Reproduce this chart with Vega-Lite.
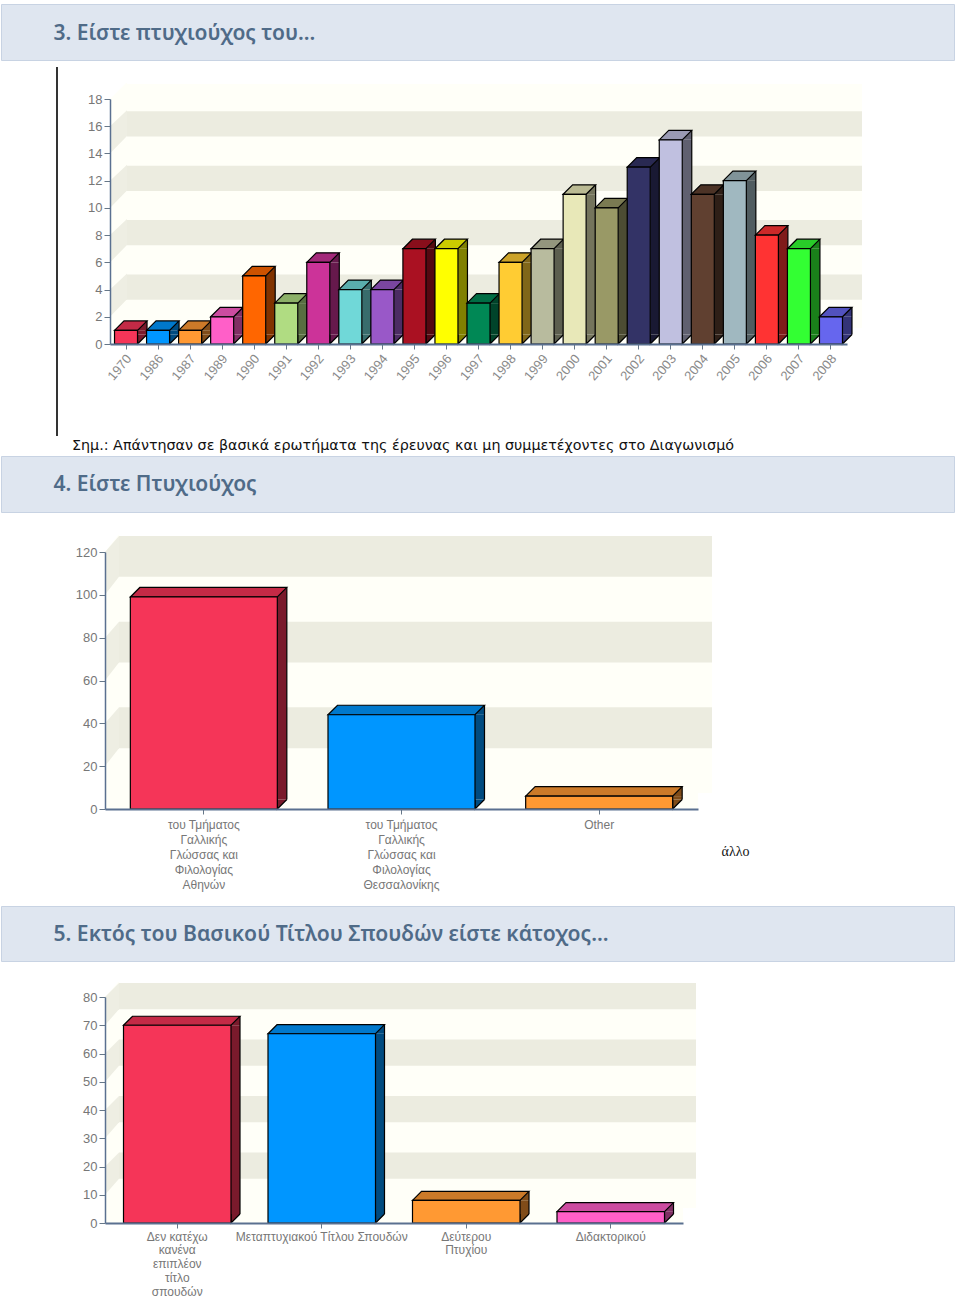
{
"$schema":"https://vega.github.io/schema/vega-lite/v6.json",
"padding":{"left":0,"top":3,"right":0,"bottom":0},
"background":"white",
"config":{"view":{"stroke":null},
 "axisY":{"grid":false,"labelFont":"Liberation Sans","labelFontSize":13,"labelColor":"#777777","labelPadding":2,"tickColor":"#667788","tickSize":6,"domainColor":"#5a7090","domainWidth":1.5},
 "axisX":{"labelFont":"Liberation Sans","tickColor":"#667788","tickSize":5,"domainColor":"#5a7090","domainWidth":2,"labelLimit":300},
 "range":{
 "category":["#f53558","#0096ff","#ff9933","#ff5fc8","#ff6600","#b0dc82","#cc3399","#70d8d8","#9958c8","#aa1122","#ffff00","#008855","#ffcc33","#b8bb9e","#e8e8b8","#999966","#333366","#c0c0e0","#604030","#a0b8c0","#ff3333","#33ff33","#6666ee"],
 "ordinal":["#c42a46","#0078cc","#cc7a29","#cc4ca0","#cc5200","#8cb068","#a3297a","#5aadad","#7a46a0","#880e1b","#cccc00","#006d44","#cca329","#93967e","#baba93","#7a7a52","#292952","#9a9ab3","#4c3326","#809399","#cc2929","#29cc29","#5252be"],
 "heatmap":["#7a1a2c","#004b80","#804c19","#802f64","#803300","#586e41","#66194c","#386c6c","#4c2c64","#550811","#808000","#00442a","#806619","#5c5e4f","#74745c","#4c4c33","#191933","#606070","#2e1f17","#505c60","#801a1a","#1a801a","#333377"]}},
"datasets":{
 "years":[{"c":"1970","v":1},{"c":"1986","v":1},{"c":"1987","v":1},{"c":"1989","v":2},{"c":"1990","v":5},{"c":"1991","v":3},{"c":"1992","v":6},{"c":"1993","v":4},{"c":"1994","v":4},{"c":"1995","v":7},{"c":"1996","v":7},{"c":"1997","v":3},{"c":"1998","v":6},{"c":"1999","v":7},{"c":"2000","v":11},{"c":"2001","v":10},{"c":"2002","v":13},{"c":"2003","v":15},{"c":"2004","v":11},{"c":"2005","v":12},{"c":"2006","v":8},{"c":"2007","v":7},{"c":"2008","v":2}],
 "degree":[{"c":"του Τμήματος|Γαλλικής|Γλώσσας και|Φιλολογίας|Αθηνών","v":99},{"c":"του Τμήματος|Γαλλικής|Γλώσσας και|Φιλολογίας|Θεσσαλονίκης","v":44},{"c":"Other","v":6}],
 "extra":[{"c":"Δεν κατέχω|κανένα|επιπλέον|τίτλο|σπουδών","v":70},{"c":"Μεταπτυχιακού Τίτλου Σπουδών","v":67},{"c":"Δεύτερου|Πτυχίου","v":8},{"c":"Διδακτορικού","v":4}],
 "w1":[{"from":18,"to":0}],
 "w2":[{"from":120,"to":0}],
 "w3":[{"from":80,"to":0}],
 "s1":[{"from":16,"to":14},{"from":12,"to":10},{"from":8,"to":6},{"from":4,"to":2}],
 "s2":[{"from":120,"to":100},{"from":80,"to":60},{"from":40,"to":20}],
 "s3":[{"from":80,"to":70},{"from":60,"to":50},{"from":40,"to":30},{"from":20,"to":10}]
},
"bounds":"flush","spacing":0,
"vconcat":[
 {"width":953,"height":56,"view":{"fill":"#dfe6f0","stroke":"#c8d3e3"},"data":{"values":[{"t":"3. Είστε πτυχιούχος του..."}]},
  "mark":{"type":"text","align":"left","dx":-424,"dy":1.5,"font":"Noto Sans","fontWeight":600,"fontSize":21,"color":"#4f6b88"},"encoding":{"text":{"field":"t"}}},
 {"width":1,"height":39,"data":{"values":[{"t":""}]},"mark":{"type":"text"},"encoding":{}},
 {"bounds":"flush","spacing":0,"hconcat":[
  {"width":109,"height":245,"data":{"values":[{"t":"line"}]},"mark":{"type":"rule","color":"#000","strokeWidth":1.6},
   "encoding":{"x":{"datum":57,"type":"quantitative","scale":{"domain":[1,110],"nice":false,"zero":false},"axis":null},
   "y":{"datum":67,"type":"quantitative","scale":{"domain":[344,99],"nice":false,"zero":false},"axis":null},"y2":{"datum":436}}},
  {"width":737,"height":245,"view":{"fill":"#fffff8"},"layer":[
   {"data":{"name":"w1"},"mark":{"type":"rect","color":"#fffff8","xOffset":15,"yOffset":-15,"y2Offset":-16},
    "encoding":{"y":{"field":"from","type":"quantitative","title":null,"scale":{"domain":[0,18],"nice":false,"zero":false},"axis":{"values":[0,2,4,6,8,10,12,14,16,18],"zindex":1}},"y2":{"field":"to"}}},
   {"data":{"name":"s1"},"mark":{"type":"rect","color":"#ecece0","xOffset":15,"yOffset":-15,"y2Offset":-17},
    "encoding":{"y":{"field":"from","type":"quantitative","title":null,"scale":{"domain":[0,18],"nice":false,"zero":false},"axis":{"values":[0,2,4,6,8,10,12,14,16,18],"zindex":1}},"y2":{"field":"to"}}},
   {"data":{"name":"w1"},"mark":{"type":"point","filled":true,"opacity":1,"color":"#fffff8","size":400,"shape":"M-36.85,-1.6 L-35.15,-1.6 L-35.15,24.5 L-36.85,24.5 Z"},
    "encoding":{"y":{"field":"from","type":"quantitative","title":null,"scale":{"domain":[0,18],"nice":false,"zero":false},"axis":{"values":[0,2,4,6,8,10,12,14,16,18],"zindex":1}}}},
   {"data":{"name":"w1"},"mark":{"type":"point","filled":true,"opacity":1,"color":"#ffffff","size":400,"shape":"M-36.85,-1.7 L-35.15,-1.7 L-36.85,0 Z"},
    "encoding":{"y":{"field":"from","type":"quantitative","title":null,"scale":{"domain":[0,18],"nice":false,"zero":false},"axis":{"values":[0,2,4,6,8,10,12,14,16,18],"zindex":1}}}},
   {"data":{"name":"s1"},"mark":{"type":"point","filled":true,"opacity":1,"color":"#eeeee3","size":400,"shape":"M-36.85,0 L-35.15,-1.6 L-35.15,0.98 L-36.85,2.73 Z"},
    "encoding":{"y":{"field":"from","type":"quantitative","title":null,"scale":{"domain":[0,18],"nice":false,"zero":false},"axis":{"values":[0,2,4,6,8,10,12,14,16,18],"zindex":1}}}},
   {"data":{"name":"years"},
    "encoding":{"x":{"field":"c","type":"nominal","sort":null,"title":null,"scale":{"paddingInner":0,"paddingOuter":0},
      "axis":{"zindex":1,"labelAngle":-50,"labelAlign":"right","labelBaseline":"middle","labelFontSize":13,"labelColor":"#8a8a8a","labelPadding":7,"labelOffset":3}},
     "y":{"field":"v","type":"quantitative","stack":false,"title":null,"scale":{"domain":[0,18],"nice":false,"zero":false},
      "axis":{"values":[0,2,4,6,8,10,12,14,16,18],"zindex":1}}},
    "resolve":{"scale":{"color":"independent"}},
    "layer":[
     {"mark":{"type":"rule","strokeWidth":9.5,"xOffset":16.25,"y2Offset":-9.5},
      "encoding":{"y2":{"datum":0},"color":{"field":"c","type":"nominal","sort":null,"legend":null,"scale":{"range":"heatmap"}}}},
     {"mark":{"type":"point","filled":true,"opacity":1,"size":400,"shape":"M1.15,0 L2.1,-0.95 L2.1,0 Z"},
      "encoding":{"color":{"field":"c","type":"nominal","sort":null,"legend":null,"scale":{"range":"heatmap"}}}},
     {"mark":{"type":"point","filled":true,"opacity":1,"size":400,"stroke":"#000","strokeWidth":1.2,"shape":"M1.15,-0.95 L1.15,0 L2.1,-0.95"},
      "encoding":{"y":{"datum":0,"type":"quantitative","title":null,"scale":{"domain":[0,18],"nice":false,"zero":false},"axis":{"values":[0,2,4,6,8,10,12,14,16,18],"zindex":1}},"color":{"field":"c","type":"nominal","sort":null,"legend":null,"scale":{"range":"heatmap"}}}},
     {"mark":{"type":"rule","color":"#000","strokeWidth":1.2,"xOffset":21,"yOffset":-9.5,"y2Offset":-9.5},"encoding":{"y2":{"datum":0}}},
     {"mark":{"type":"point","filled":true,"opacity":1,"size":400,"stroke":"#000","strokeWidth":1.2,"shape":"M-1.15,0 L-0.2,-0.95 L2.1,-0.95 L1.15,0 Z"},
      "encoding":{"color":{"field":"c","type":"nominal","sort":null,"legend":null,"scale":{"range":"ordinal"}}}},
     {"mark":{"type":"bar","width":23,"stroke":"#000","strokeWidth":1.2},
      "encoding":{"color":{"field":"c","type":"nominal","sort":null,"legend":null,"scale":{"range":"category"}}}}
    ]}
  ]}
 ]},
 {"width":953,"height":357,"data":{"values":[{"t":"Σημ.: Απάντησαν σε βασικά ερωτήματα της έρευνας και μη συμμετέχοντες στο Διαγωνισμό"}]},
  "mark":{"type":"text","align":"left","dx":-405.5,"dy":168.5,"font":"DejaVu Sans","fontSize":14.3,"color":"#111111"},"encoding":{"text":{"field":"t"}}},
 {"width":953,"height":56,"view":{"fill":"#dfe6f0","stroke":"#c8d3e3"},"data":{"values":[{"t":"4. Είστε Πτυχιούχος"}]},
  "mark":{"type":"text","align":"left","dx":-424,"dy":1,"font":"Noto Sans","fontWeight":600,"fontSize":21,"color":"#4f6b88"},"encoding":{"text":{"field":"t"}}},
 {"width":1,"height":40,"data":{"values":[{"t":""}]},"mark":{"type":"text"},"encoding":{}},
 {"bounds":"flush","spacing":0,"hconcat":[
  {"width":104,"height":257,"data":{"values":[{"t":""}]},"mark":{"type":"text"},"encoding":{}},
  {"width":593,"height":257,"view":{"fill":"#fffff8"},"layer":[
   {"data":{"name":"w2"},"mark":{"type":"rect","color":"#fffff8","xOffset":14,"yOffset":-16,"y2Offset":-16},
    "encoding":{"y":{"field":"from","type":"quantitative","title":null,"scale":{"domain":[0,120],"nice":false,"zero":false},"axis":{"values":[0,20,40,60,80,100,120],"zindex":1}},"y2":{"field":"to"}}},
   {"data":{"name":"s2"},"mark":{"type":"rect","color":"#ecece0","xOffset":14,"yOffset":-16,"y2Offset":-18},
    "encoding":{"y":{"field":"from","type":"quantitative","title":null,"scale":{"domain":[0,120],"nice":false,"zero":false},"axis":{"values":[0,20,40,60,80,100,120],"zindex":1}},"y2":{"field":"to"}}},
   {"data":{"name":"w2"},"mark":{"type":"point","filled":true,"opacity":1,"color":"#fffff8","size":400,"shape":"M-29.65,-1.7 L-28.25,-1.7 L-28.25,25.7 L-29.65,25.7 Z"},
    "encoding":{"y":{"field":"from","type":"quantitative","title":null,"scale":{"domain":[0,120],"nice":false,"zero":false},"axis":{"values":[0,20,40,60,80,100,120],"zindex":1}}}},
   {"data":{"name":"w2"},"mark":{"type":"point","filled":true,"opacity":1,"color":"#ffffff","size":400,"shape":"M-29.65,-1.8 L-28.25,-1.8 L-29.65,0 Z"},
    "encoding":{"y":{"field":"from","type":"quantitative","title":null,"scale":{"domain":[0,120],"nice":false,"zero":false},"axis":{"values":[0,20,40,60,80,100,120],"zindex":1}}}},
   {"data":{"name":"s2"},"mark":{"type":"point","filled":true,"opacity":1,"color":"#eeeee3","size":400,"shape":"M-29.65,0 L-28.25,-1.6 L-28.25,2.48 L-29.65,4.28 Z"},
    "encoding":{"y":{"field":"from","type":"quantitative","title":null,"scale":{"domain":[0,120],"nice":false,"zero":false},"axis":{"values":[0,20,40,60,80,100,120],"zindex":1}}}},
   {"data":{"values":[{"t":"άλλο"}]},"mark":{"type":"text","font":"Liberation Serif","fontSize":14,"color":"#111111","dx":334,"dy":171},"encoding":{"text":{"field":"t"}}},
   {"data":{"name":"degree"},
    "encoding":{"x":{"field":"c","type":"nominal","sort":null,"title":null,"scale":{"paddingInner":0,"paddingOuter":0},
      "axis":{"zindex":1,"labelAngle":0,"labelAlign":"center","labelBaseline":"top","labelExpr":"split(datum.label,'|')","labelLineHeight":15,"labelFontSize":12,"labelColor":"#777777","labelPadding":5}},
     "y":{"field":"v","type":"quantitative","stack":false,"title":null,"scale":{"domain":[0,120],"nice":false,"zero":false},
      "axis":{"values":[0,20,40,60,80,100,120],"zindex":1}}},
    "resolve":{"scale":{"color":"independent"}},
    "layer":[
     {"mark":{"type":"rule","strokeWidth":9.5,"xOffset":78.25,"y2Offset":-9.5},
      "encoding":{"y2":{"datum":0},"color":{"field":"c","type":"nominal","sort":null,"legend":null,"scale":{"range":"heatmap"}}}},
     {"mark":{"type":"point","filled":true,"opacity":1,"size":400,"shape":"M7.35,0 L8.3,-0.95 L8.3,0 Z"},
      "encoding":{"color":{"field":"c","type":"nominal","sort":null,"legend":null,"scale":{"range":"heatmap"}}}},
     {"mark":{"type":"point","filled":true,"opacity":1,"size":400,"stroke":"#000","strokeWidth":1.2,"shape":"M7.35,-0.95 L7.35,0 L8.3,-0.95"},
      "encoding":{"y":{"datum":0,"type":"quantitative","title":null,"scale":{"domain":[0,120],"nice":false,"zero":false},"axis":{"values":[0,20,40,60,80,100,120],"zindex":1}},"color":{"field":"c","type":"nominal","sort":null,"legend":null,"scale":{"range":"heatmap"}}}},
     {"mark":{"type":"rule","color":"#000","strokeWidth":1.2,"xOffset":83,"yOffset":-9.5,"y2Offset":-9.5},"encoding":{"y2":{"datum":0}}},
     {"mark":{"type":"point","filled":true,"opacity":1,"size":400,"stroke":"#000","strokeWidth":1.2,"shape":"M-7.35,0 L-6.4,-0.95 L8.3,-0.95 L7.35,0 Z"},
      "encoding":{"color":{"field":"c","type":"nominal","sort":null,"legend":null,"scale":{"range":"ordinal"}}}},
     {"mark":{"type":"bar","width":147,"stroke":"#000","strokeWidth":1.2},
      "encoding":{"color":{"field":"c","type":"nominal","sort":null,"legend":null,"scale":{"range":"category"}}}}
    ]}
  ]}
 ]},
 {"width":1,"height":354,"data":{"values":[{"t":""}]},"mark":{"type":"text"},"encoding":{}},
 {"width":953,"height":55,"view":{"fill":"#dfe6f0","stroke":"#c8d3e3"},"data":{"values":[{"t":"5. Εκτός του Βασικού Τίτλου Σπουδών είστε κάτοχος..."}]},
  "mark":{"type":"text","align":"left","dx":-424,"dy":1,"font":"Noto Sans","fontWeight":600,"fontSize":21.1,"color":"#4f6b88"},"encoding":{"text":{"field":"t"}}},
 {"width":1,"height":36,"data":{"values":[{"t":""}]},"mark":{"type":"text"},"encoding":{}},
 {"bounds":"flush","spacing":0,"hconcat":[
  {"width":104,"height":226,"data":{"values":[{"t":""}]},"mark":{"type":"text"},"encoding":{}},
  {"width":578,"height":226,"view":{"fill":"#fffff8"},"layer":[
   {"data":{"name":"w3"},"mark":{"type":"rect","color":"#fffff8","xOffset":13,"yOffset":-14,"y2Offset":-15},
    "encoding":{"y":{"field":"from","type":"quantitative","title":null,"scale":{"domain":[0,80],"nice":false,"zero":false},"axis":{"values":[0,10,20,30,40,50,60,70,80],"zindex":1}},"y2":{"field":"to"}}},
   {"data":{"name":"s3"},"mark":{"type":"rect","color":"#ecece0","xOffset":13,"yOffset":-14,"y2Offset":-16},
    "encoding":{"y":{"field":"from","type":"quantitative","title":null,"scale":{"domain":[0,80],"nice":false,"zero":false},"axis":{"values":[0,10,20,30,40,50,60,70,80],"zindex":1}},"y2":{"field":"to"}}},
   {"data":{"name":"w3"},"mark":{"type":"point","filled":true,"opacity":1,"color":"#fffff8","size":400,"shape":"M-28.9,-1.5 L-27.5,-1.5 L-27.5,22.6 L-28.9,22.6 Z"},
    "encoding":{"y":{"field":"from","type":"quantitative","title":null,"scale":{"domain":[0,80],"nice":false,"zero":false},"axis":{"values":[0,10,20,30,40,50,60,70,80],"zindex":1}}}},
   {"data":{"name":"w3"},"mark":{"type":"point","filled":true,"opacity":1,"color":"#ffffff","size":400,"shape":"M-28.9,-1.6 L-27.5,-1.6 L-28.9,0 Z"},
    "encoding":{"y":{"field":"from","type":"quantitative","title":null,"scale":{"domain":[0,80],"nice":false,"zero":false},"axis":{"values":[0,10,20,30,40,50,60,70,80],"zindex":1}}}},
   {"data":{"name":"s3"},"mark":{"type":"point","filled":true,"opacity":1,"color":"#eeeee3","size":400,"shape":"M-28.9,0 L-27.5,-1.4 L-27.5,1.22 L-28.9,2.82 Z"},
    "encoding":{"y":{"field":"from","type":"quantitative","title":null,"scale":{"domain":[0,80],"nice":false,"zero":false},"axis":{"values":[0,10,20,30,40,50,60,70,80],"zindex":1}}}},
   {"data":{"name":"extra"},
    "encoding":{"x":{"field":"c","type":"nominal","sort":null,"title":null,"scale":{"paddingInner":0,"paddingOuter":0},
      "axis":{"zindex":1,"labelAngle":0,"labelAlign":"center","labelBaseline":"top","labelExpr":"split(datum.label,'|')","labelLineHeight":13.8,"labelFontSize":12,"labelColor":"#777777","labelPadding":3}},
     "y":{"field":"v","type":"quantitative","stack":false,"title":null,"scale":{"domain":[0,80],"nice":false,"zero":false},
      "axis":{"values":[0,10,20,30,40,50,60,70,80],"zindex":1}}},
    "resolve":{"scale":{"color":"independent"}},
    "layer":[
     {"mark":{"type":"rule","strokeWidth":9,"xOffset":58.25,"y2Offset":-9},
      "encoding":{"y2":{"datum":0},"color":{"field":"c","type":"nominal","sort":null,"legend":null,"scale":{"range":"heatmap"}}}},
     {"mark":{"type":"point","filled":true,"opacity":1,"size":400,"shape":"M5.375,0 L6.275,-0.9 L6.275,0 Z"},
      "encoding":{"color":{"field":"c","type":"nominal","sort":null,"legend":null,"scale":{"range":"heatmap"}}}},
     {"mark":{"type":"point","filled":true,"opacity":1,"size":400,"stroke":"#000","strokeWidth":1.2,"shape":"M5.375,-0.9 L5.375,0 L6.275,-0.9"},
      "encoding":{"y":{"datum":0,"type":"quantitative","title":null,"scale":{"domain":[0,80],"nice":false,"zero":false},"axis":{"values":[0,10,20,30,40,50,60,70,80],"zindex":1}},"color":{"field":"c","type":"nominal","sort":null,"legend":null,"scale":{"range":"heatmap"}}}},
     {"mark":{"type":"rule","color":"#000","strokeWidth":1.2,"xOffset":62.75,"yOffset":-9,"y2Offset":-9},"encoding":{"y2":{"datum":0}}},
     {"mark":{"type":"point","filled":true,"opacity":1,"size":400,"stroke":"#000","strokeWidth":1.2,"shape":"M-5.375,0 L-4.475,-0.9 L6.275,-0.9 L5.375,0 Z"},
      "encoding":{"color":{"field":"c","type":"nominal","sort":null,"legend":null,"scale":{"range":"ordinal"}}}},
     {"mark":{"type":"bar","width":107.5,"stroke":"#000","strokeWidth":1.2},
      "encoding":{"color":{"field":"c","type":"nominal","sort":null,"legend":null,"scale":{"range":"category"}}}}
    ]}
  ]}
 ]}
]
}
